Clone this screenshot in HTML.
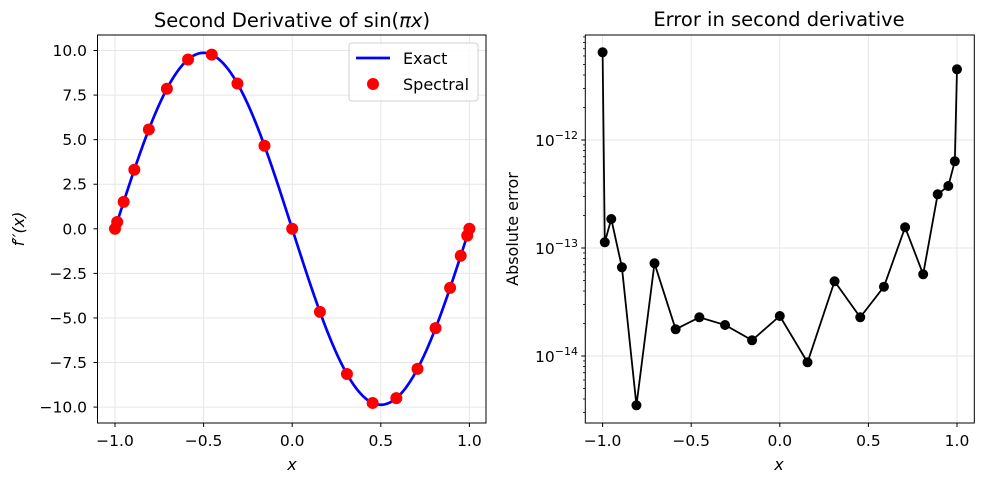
<!DOCTYPE html>
<html><head><meta charset="utf-8"><style>
html,body{margin:0;padding:0;background:#fff;}
svg{display:block;font-family:"DejaVu Sans","Liberation Sans",sans-serif;}
</style></head><body>
<svg id="s" width="984" height="484" xmlns="http://www.w3.org/2000/svg">
<rect width="984" height="484" fill="#fff"/>
<g id="L"></g><g id="R"></g>
<text x="292" y="27" font-size="19.5" text-anchor="middle">Second Derivative of sin(<tspan font-style="italic">πx</tspan>)</text>
<text x="779" y="26" font-size="19.5" text-anchor="middle">Error in second derivative</text>
<text x="292" y="470" font-size="16" font-style="italic" text-anchor="middle">x</text>
<text x="779" y="470" font-size="16" font-style="italic" text-anchor="middle">x</text>
<text transform="translate(24,229) rotate(-90)" font-size="16" text-anchor="middle" font-style="italic">f′′(x)</text>
<text transform="translate(518,229) rotate(-90)" font-size="16" text-anchor="middle">Absolute error</text>
<g>
<rect x="349" y="43" width="129" height="58" rx="3" fill="#fff" stroke="#ccc" opacity="0.9"/>
<line x1="356" y1="58" x2="390" y2="58" stroke="#0000ff" stroke-width="2.7"/>
<text x="403" y="64" font-size="16">Exact</text>
<circle cx="373" cy="84" r="6" fill="#ff0000"/>
<text x="403" y="90" font-size="16">Spectral</text>
</g>
</svg>
<script>
const NS="http://www.w3.org/2000/svg";
function el(p,t,a,txt){const e=document.createElementNS(NS,t);for(const k in a)e.setAttribute(k,a[k]);if(txt!==undefined)e.textContent=txt;p.appendChild(e);return e;}
const L=document.getElementById('L'),R=document.getElementById('R');
const xs=[];for(let j=20;j>=0;j--)xs.push(Math.cos(j*Math.PI/20));
const FS=15.5;
const lx=x=>292.2+177.2*x, ly=y=>228.8-17.83*y;
[-1,-0.5,0,0.5,1].forEach(t=>{el(L,'line',{x1:lx(t),x2:lx(t),y1:35,y2:423,stroke:'#e6e6e6'});el(L,'line',{x1:lx(t),x2:lx(t),y1:423,y2:427,stroke:'#000'});el(L,'text',{x:lx(t),y:446,'font-size':FS,'text-anchor':'middle'},(t<0?'−':'')+Math.abs(t).toFixed(1));});
for(let v=-10;v<=10;v+=2.5){const y=ly(v);el(L,'line',{x1:97.5,x2:486,y1:y,y2:y,stroke:'#e6e6e6'});el(L,'line',{x1:93.5,x2:97.5,y1:y,y2:y,stroke:'#000'});el(L,'text',{x:87,y:y+5.5,'font-size':FS,'text-anchor':'end'},(v<0?'−':'')+Math.abs(v).toFixed(1));}
let d='';for(let i=0;i<=400;i++){const x=-1+2*i/400;d+=(i?'L':'M')+lx(x).toFixed(2)+' '+ly(-Math.PI*Math.PI*Math.sin(Math.PI*x)).toFixed(2);}
el(L,'path',{d:d,fill:'none',stroke:'#0000ff','stroke-width':2.7});
xs.forEach(x=>el(L,'circle',{cx:lx(x),cy:ly(-Math.PI*Math.PI*Math.sin(Math.PI*x)),r:6,fill:'#ff0000'}));
el(L,'rect',{x:97.5,y:35,width:388.5,height:388,fill:'none',stroke:'#000','stroke-width':1});
const rx=x=>779.8+177.2*x, ry=l=>140-(l+12)*108;
[-1,-0.5,0,0.5,1].forEach(t=>{el(R,'line',{x1:rx(t),x2:rx(t),y1:35,y2:423,stroke:'#e6e6e6'});el(R,'line',{x1:rx(t),x2:rx(t),y1:423,y2:427,stroke:'#000'});el(R,'text',{x:rx(t),y:446,'font-size':FS,'text-anchor':'middle'},(t<0?'−':'')+Math.abs(t).toFixed(1));});
[-12,-13,-14].forEach(e=>{const y=ry(e);el(R,'line',{x1:585.3,x2:974.3,y1:y,y2:y,stroke:'#e6e6e6'});el(R,'line',{x1:581.3,x2:585.3,y1:y,y2:y,stroke:'#000'});const t=el(R,'text',{x:578,y:y+6,'font-size':FS,'text-anchor':'end'});t.innerHTML='10<tspan dy="-7" font-size="11">−'+(-e)+'</tspan>';});
for(let e=-15;e<=-11;e++)for(let m=2;m<=9;m++){const y=ry(e+Math.log10(m));if(y>35&&y<423)el(R,'line',{x1:583,x2:585.3,y1:y,y2:y,stroke:'#000','stroke-width':0.8});}
const py=[52.3,242.3,219,267.3,405.3,263.3,329.3,317.3,325,340.3,316,362.3,281.3,317.3,286.7,227.3,274.3,194.3,186,161.3,69.3];
let d2='';xs.forEach((x,i)=>{d2+=(i?'L':'M')+rx(x).toFixed(2)+' '+py[i];});
el(R,'path',{d:d2,fill:'none',stroke:'#000','stroke-width':1.8});
xs.forEach((x,i)=>el(R,'circle',{cx:rx(x),cy:py[i],r:5,fill:'#000'}));
el(R,'rect',{x:585.3,y:35,width:389,height:388,fill:'none',stroke:'#000','stroke-width':1});
</script>
</body></html>
